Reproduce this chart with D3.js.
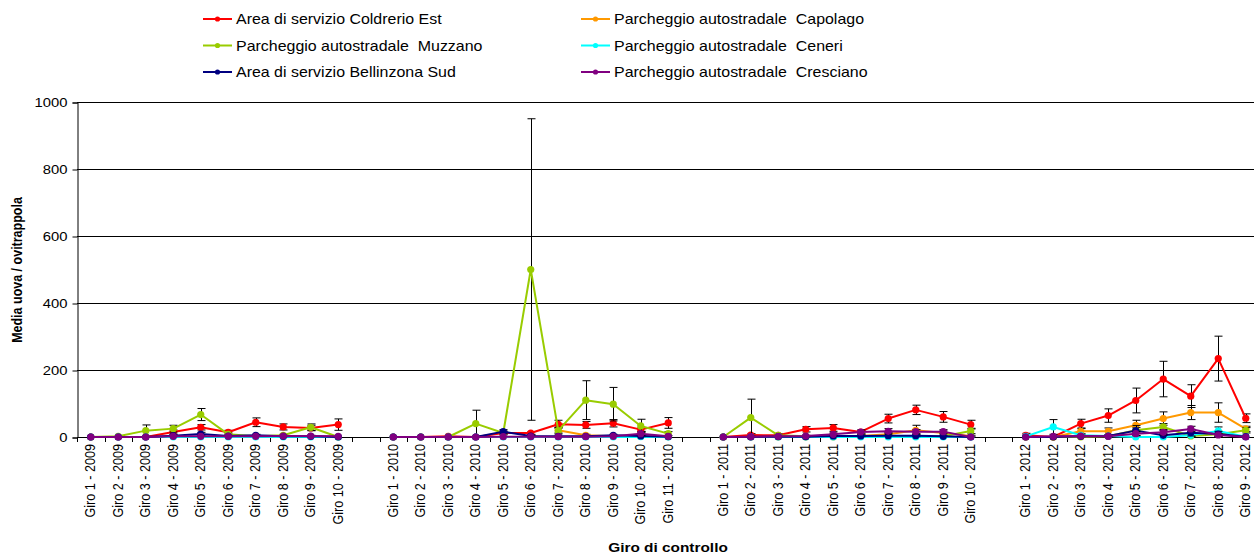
<!DOCTYPE html>
<html>
<head>
<meta charset="utf-8">
<script src="https://cdn.jsdelivr.net/npm/d3@7"></script>
<style>
  body { margin: 0; background: #fff; }
  svg { display: block; }
  text { font-family: "Liberation Sans", Arial, sans-serif; fill: #000; white-space: pre; }
</style>
</head>
<body>
<svg id="chart" width="1254" height="557"></svg>
<script>
// Control rounds; empty strings separate the seasons
const categories = [
  "Giro 1 - 2009","Giro 2 - 2009","Giro 3 - 2009","Giro 4 - 2009","Giro 5 - 2009",
  "Giro 6 - 2009","Giro 7 - 2009","Giro 8 - 2009","Giro 9 - 2009","Giro 10 - 2009",
  "",
  "Giro 1 - 2010","Giro 2 - 2010","Giro 3 - 2010","Giro 4 - 2010","Giro 5 - 2010",
  "Giro 6 - 2010","Giro 7 - 2010","Giro 8 - 2010","Giro 9 - 2010","Giro 10 - 2010","Giro 11 - 2010",
  "",
  "Giro 1 - 2011","Giro 2 - 2011","Giro 3 - 2011","Giro 4 - 2011","Giro 5 - 2011",
  "Giro 6 - 2011","Giro 7 - 2011","Giro 8 - 2011","Giro 9 - 2011","Giro 10 - 2011",
  "",
  "Giro 1 - 2012","Giro 2 - 2012","Giro 3 - 2012","Giro 4 - 2012","Giro 5 - 2012",
  "Giro 6 - 2012","Giro 7 - 2012","Giro 8 - 2012","Giro 9 - 2012"
];

const seriesNames = [
  "Area di servizio Coldrerio Est",
  "Parcheggio autostradale  Capolago",
  "Parcheggio autostradale  Muzzano",
  "Parcheggio autostradale  Ceneri",
  "Area di servizio Bellinzona Sud",
  "Parcheggio autostradale  Cresciano"
];
const seriesColors = ["#ff0000", "#ff9900", "#99cc00", "#00ffff", "#000080", "#800080"];

// Mean eggs per trap
const coldrerio  = [0,0,0,15,29,14,44,30,27,37, null, 0,0,2,0,12,12,38,36,41,22,42, null, 0,6,5,23,27,15,55,81,60,37, null, 5,0,40,64,109,173,122,234,56];
const capolago   = [null,null,null,null,null,null,null,null,null,null, null, null,null,null,null,null,null,20,5,2,2,1, null, 0,0,0,0,0,3,8,20,12,3, null, 0,0,17,17,35,55,73,73,24];
const muzzano    = [0,2,19,25,67,8,2,5,29,0, null, 0,0,0,40,12,500,19,110,98,33,10, null, 0,58,5,2,2,2,2,2,2,18, null, 0,0,0,2,20,30,3,8,20];
const ceneri     = [0,0,0,0,0,0,0,0,0,0, null, 0,0,0,0,0,0,0,0,0,1,0, null, 0,0,0,0,0,0,0,0,0,0, null, 2,30,5,3,0,0,5,18,1];
const bellinzona = [0,0,0,4,9,3,5,2,2,0, null, 0,0,0,0,16,3,2,2,5,3,1, null, 0,0,1,1,3,3,4,4,2,0, null, 0,0,2,3,19,5,13,9,1];
const cresciano  = [0,0,0,2,2,2,2,3,3,2, null, 0,0,0,0,1,1,1,1,2,10,2, null, 0,1,2,3,8,15,17,16,16,0, null, 0,2,3,2,10,14,24,6,0];

// Standard deviations (error bars)
const coldrerioErr  = [0,0,0,6,8,6,13,9,8,17, null, 0,0,0,0,4,4,12,10,11,5,16, null, 0,4,3,8,10,6,13,14,16,13, null, 6,0,13,20,37,53,34,67,13];
const capolagoErr   = [null,null,null,null,null,null,null,null,null,null, null, null,null,null,null,null,null,8,3,0,0,0, null, 0,0,0,0,0,2,5,15,6,2, null, 0,0,8,10,15,20,21,29,8];
const muzzanoErr    = [0,0,17,10,18,4,0,3,10,0, null, 0,0,0,40,6,450,10,58,50,20,6, null, 0,55,4,0,0,0,0,0,0,8, null, 0,0,0,0,8,10,3,5,8];
const ceneriErr     = [0,0,0,0,0,0,0,0,0,0, null, 0,0,0,0,0,0,0,0,0,0,0, null, 0,0,0,0,0,0,0,0,0,0, null, 2,22,4,3,0,0,4,12,0];
const bellinzonaErr = [0,0,0,3,5,2,3,2,1,0, null, 0,0,0,0,6,2,1,1,3,2,1, null, 0,0,0,0,2,2,8,3,2,0, null, 0,0,1,2,15,6,10,8,1];
const crescianoErr  = [0,0,0,1,1,1,1,2,2,1, null, 0,0,0,0,0,0,0,0,1,6,1, null, 0,0,1,2,4,6,8,6,6,0, null, 0,1,2,1,6,8,8,4,0];

const yTicks = [0, 200, 400, 600, 800, 1000];

const seriesValues = [coldrerio, capolago, muzzano, ceneri, bellinzona, cresciano];
const seriesErrors = [coldrerioErr, capolagoErr, muzzanoErr, ceneriErr, bellinzonaErr, crescianoErr];

const svg = d3.select("#chart");
const plot = { left: 77, right: 1259.5, top: 102, bottom: 437 };
const stretch = 1.14; // horizontal text widening

const x = d3.scaleBand().domain(d3.range(categories.length)).range([plot.left, plot.right]).padding(0);
const cx = i => x(i) + x.bandwidth() / 2;
const y = d3.scaleLinear().domain([0, 1000]).range([plot.bottom, plot.top]);

// Horizontal gridlines
svg.append("g").selectAll("line").data(yTicks.filter(d => d > 0)).join("line")
  .attr("x1", plot.left).attr("x2", 1254)
  .attr("y1", d => y(d) + 0.5).attr("y2", d => y(d) + 0.5)
  .attr("stroke", "#000").attr("stroke-width", 1);

// Y axis
const yAxis = svg.append("g").attr("transform", `translate(${plot.left + 0.5},0.5)`)
  .call(d3.axisLeft(y).tickValues(yTicks).tickSize(5).tickPadding(5).tickFormat(d3.format("d")));
yAxis.select(".domain").attr("stroke", "#000");
yAxis.selectAll(".tick line").attr("stroke", "#000");
yAxis.selectAll(".tick text").attr("font-size", 13).attr("font-family", "Liberation Sans, Arial, sans-serif")
  .attr("text-anchor", "end")
  .attr("transform", function() { const t = d3.select(this); return `translate(${t.attr("x")},0) scale(${stretch},1) translate(${-t.attr("x")},0)`; });

// X axis with ticks at category boundaries
const xAxisG = svg.append("g");
xAxisG.append("line").attr("x1", plot.left).attr("x2", 1254)
  .attr("y1", plot.bottom + 0.5).attr("y2", plot.bottom + 0.5).attr("stroke", "#000");
xAxisG.selectAll("line.tk").data(d3.range(categories.length + 1)).join("line").attr("class", "tk")
  .attr("x1", i => Math.round(plot.left + i * x.bandwidth()) + 0.5)
  .attr("x2", i => Math.round(plot.left + i * x.bandwidth()) + 0.5)
  .attr("y1", plot.bottom).attr("y2", plot.bottom + 5).attr("stroke", "#000");
xAxisG.selectAll("text").data(categories.map((c, i) => ({ c, i })).filter(d => d.c)).join("text")
  .attr("transform", d => `translate(${cx(d.i) + 4.5},${plot.bottom + 7}) rotate(-90) scale(1,${stretch})`)
  .attr("text-anchor", "end").attr("font-size", 12.6)
  .text(d => d.c);

// Axis titles
svg.append("text")
  .attr("transform", `translate(22,270) rotate(-90) scale(1,${stretch})`)
  .attr("text-anchor", "middle").attr("font-size", 12.5).attr("font-weight", "bold")
  .text("Media uova / ovitrappola");
svg.append("text")
  .attr("transform", `translate(668,552) scale(${stretch},1)`)
  .attr("text-anchor", "middle").attr("font-size", 13.5).attr("font-weight", "bold")
  .text("Giro di controllo");

// Series: error bars, lines, markers
const line = d3.line().defined(d => d.v != null).x(d => cx(d.i)).y(d => y(d.v));
seriesValues.forEach((vals, s) => {
  const pts = vals.map((v, i) => ({ v, i, e: seriesErrors[s][i] }));
  const g = svg.append("g");
  const eb = pts.filter(d => d.v != null && d.e > 1);
  const gE = g.append("g").attr("stroke", "#000").attr("stroke-width", 1);
  eb.forEach(d => {
    const xx = Math.round(cx(d.i)) + 0.5;
    const top = y(d.v + d.e), bot = y(Math.max(0, d.v - d.e));
    gE.append("line").attr("x1", xx).attr("x2", xx).attr("y1", top).attr("y2", bot);
    gE.append("line").attr("x1", xx - 4).attr("x2", xx + 4).attr("y1", top).attr("y2", top);
    if (d.v - d.e > 0) gE.append("line").attr("x1", xx - 4).attr("x2", xx + 4).attr("y1", bot).attr("y2", bot);
  });
  g.append("path").datum(pts).attr("d", line)
    .attr("fill", "none").attr("stroke", seriesColors[s]).attr("stroke-width", 2).attr("stroke-linejoin", "round");
  g.selectAll("circle").data(pts.filter(d => d.v != null)).join("circle")
    .attr("cx", d => cx(d.i)).attr("cy", d => y(d.v)).attr("r", 3.6)
    .attr("fill", seriesColors[s]);
});

// Legend (two columns, row-major)
const legend = svg.append("g");
seriesNames.forEach((name, s) => {
  const col = s % 2, row = Math.floor(s / 2);
  const lx = col === 0 ? 203 : 581;
  const ly = 19 + row * 26.5;
  const item = legend.append("g").attr("transform", `translate(${lx},${ly})`);
  item.append("line").attr("x1", 0).attr("x2", 29).attr("y1", 0).attr("y2", 0)
    .attr("stroke", seriesColors[s]).attr("stroke-width", 2);
  item.append("circle").attr("cx", 14.5).attr("cy", 0).attr("r", 2.6).attr("fill", seriesColors[s]);
  item.append("text").attr("transform", `translate(33,5) scale(${stretch},1)`)
    .attr("font-size", 14).text(name);
});
</script>
</body>
</html>
